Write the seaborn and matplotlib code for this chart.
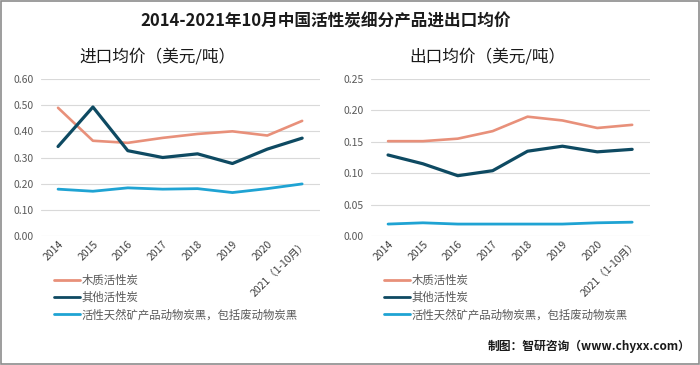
import pandas as pd
import matplotlib
matplotlib.use("Agg")
import matplotlib.pyplot as plt
import seaborn as sns
from matplotlib.patches import Rectangle

years = ["2014", "2015", "2016", "2017", "2018", "2019", "2020", "2021（1-10月）"]
series_names = ["木质活性炭", "其他活性炭", "活性天然矿产品动物炭黑，包括废动物炭黑"]

import_wood = [0.49, 0.364, 0.356, 0.375, 0.39, 0.40, 0.384, 0.44]
import_other = [0.342, 0.493, 0.326, 0.30, 0.314, 0.277, 0.332, 0.374]
import_mineral = [0.179, 0.171, 0.184, 0.179, 0.181, 0.166, 0.181, 0.199]

export_wood = [0.151, 0.151, 0.155, 0.167, 0.19, 0.184, 0.172, 0.177]
export_other = [0.129, 0.115, 0.096, 0.104, 0.135, 0.143, 0.134, 0.138]
export_mineral = [0.019, 0.021, 0.019, 0.019, 0.019, 0.019, 0.021, 0.022]

colors = ["#E8907A", "#0E4A62", "#1FA3D3"]

sns.set_theme(style="white")
plt.rcParams["font.family"] = ["Noto Sans CJK SC", "DejaVu Sans"]

def long_df(vals):
    rows = []
    for name, v in zip(series_names, vals):
        for i, y in enumerate(v):
            rows.append({"idx": i, "series": name, "value": y})
    return pd.DataFrame(rows)

fig = plt.figure(figsize=(7, 3.65), dpi=100)
W, H = 700, 365

def px_axes(x0, y_top, w, h):
    return fig.add_axes([x0 / W, (H - y_top - h) / H, w / W, h / H])

ax1 = px_axes(40.6, 79, 279, 157)
ax2 = px_axes(370.6, 79, 279, 157)

panels = [
    (ax1, [import_wood, import_other, import_mineral], 0.6, 0.1, (54, 275)),
    (ax2, [export_wood, export_other, export_mineral], 0.25, 0.05, (384, 275)),
]

for ax, vals, ymax, step, leg in panels:
    df = long_df(vals)
    sns.lineplot(data=df, x="idx", y="value", hue="series", palette=colors,
                 hue_order=series_names, ax=ax, linewidth=2.0)
    for ln, lw in zip(ax.lines, [1.9, 2.3, 2.0]):
        ln.set_linewidth(lw)
    ax.set_xlim(-0.5, 7.5)
    ax.set_ylim(0, ymax)
    ticks = [round(step * k, 3) for k in range(int(round(ymax / step)) + 1)]
    ax.set_yticks(ticks)
    ax.set_yticklabels(["{:.2f}".format(t) for t in ticks])
    ax.set_xticks(range(len(years)))
    ax.set_xticklabels(years, rotation=45, ha="right", rotation_mode="anchor")
    ax.tick_params(axis="both", labelsize=7.5, colors="#595959", length=0, pad=5)
    ax.tick_params(axis="x", pad=2, colors="#404040")
    ax.grid(axis="y", color="#D9D9D9", linewidth=0.8)
    ax.set_axisbelow(True)
    for s in ax.spines.values():
        s.set_visible(False)
    ax.set_xlabel("")
    ax.set_ylabel("")
    handles, labels = ax.get_legend_handles_labels()
    ax.legend(handles, labels, loc="upper left",
              bbox_to_anchor=(leg[0] / W, 1 - leg[1] / H),
              bbox_transform=fig.transFigure, frameon=False,
              fontsize=8.2, handlelength=2.3, handletextpad=0.1,
              labelspacing=0.5, borderpad=0, borderaxespad=0,
              labelcolor="#595959")

fig.text(326 / W, 1 - 21 / H, "2014-2021年10月中国活性炭细分产品进出口均价",
         ha="center", va="center", fontsize=12, fontweight="bold", color="#1a1a1a")
fig.text(157 / W, 1 - 57 / H, "进口均价（美元/吨）", ha="center", va="center",
         fontsize=12, fontweight="medium", color="#1a1a1a")
fig.text(487 / W, 1 - 57 / H, "出口均价（美元/吨）", ha="center", va="center",
         fontsize=12, fontweight="medium", color="#1a1a1a")
fig.text(691 / W, 1 - 346 / H, "制图：智研咨询（www.chyxx.com）", ha="right",
         va="center", fontsize=8.5, fontweight="bold", color="#1a1a1a")

fig.patches.append(Rectangle((0.001, 0.002), 0.997, 0.995, transform=fig.transFigure,
                             fill=False, edgecolor="#8C8C8C", linewidth=1.2))

fig.savefig("out.png", dpi=100)
